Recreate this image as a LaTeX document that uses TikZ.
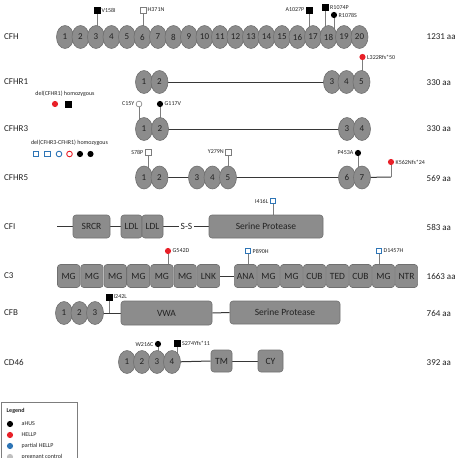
\documentclass[tikz,border=0pt]{standalone}
\usepackage{fontspec}
\setmainfont{Carlito}
\usetikzlibrary{shapes.geometric}
\pgfdeclarelayer{bg}
\pgfsetlayers{bg,main}
\definecolor{egray}{RGB}{140,140,140}
\definecolor{dgray}{RGB}{112,112,112}
\definecolor{stemc}{RGB}{125,125,125}
\definecolor{linec}{RGB}{55,55,55}
\definecolor{redC}{RGB}{232,32,40}
\definecolor{blueC}{RGB}{46,117,182}
\definecolor{lgray}{RGB}{192,192,192}
\definecolor{txt}{RGB}{35,35,35}
\begin{document}
\begin{tikzpicture}[x=1pt,y=-1pt,
  dom/.style={ellipse, draw=dgray, fill=egray, line width=0.6pt, minimum width=17pt, minimum height=23pt, inner sep=0pt, font=\fontsize{9}{9}\selectfont, text=txt},
  box/.style={rectangle, rounded corners=3pt, draw=dgray, fill=egray, line width=0.6pt, minimum height=23pt, inner sep=0pt, font=\fontsize{9.5}{9.5}\selectfont, text=txt},
  sqk/.style={rectangle, draw=black, fill=black, minimum size=6pt, inner sep=0pt},
  sqo/.style={rectangle, draw=stemc, fill=white, line width=0.6pt, minimum size=5.6pt, inner sep=0pt},
  sqb/.style={rectangle, draw=blueC, fill=white, line width=0.9pt, minimum size=5.4pt, inner sep=0pt},
  cik/.style={circle, fill=black, minimum size=6.2pt, inner sep=0pt},
  cir/.style={circle, fill=redC, minimum size=6.2pt, inner sep=0pt},
  cio/.style={circle, draw=stemc, fill=white, line width=0.6pt, minimum size=5.8pt, inner sep=0pt},
  cib/.style={circle, draw=blueC, fill=white, line width=0.9pt, minimum size=5.6pt, inner sep=0pt},
  cirO/.style={circle, draw=redC, fill=white, line width=0.9pt, minimum size=5.6pt, inner sep=0pt},
  cig/.style={circle, fill=lgray, minimum size=6.2pt, inner sep=0pt},
  lab/.style={font=\fontsize{6}{6}\selectfont, inner sep=0pt, text=txt},
  rowlab/.style={font=\fontsize{9}{9}\selectfont, inner sep=0pt, anchor=west, text=txt},
  aalab/.style={font=\fontsize{9}{9}\selectfont, inner sep=0pt, anchor=west, text=txt},
  stem/.style={draw=stemc, line width=0.8pt},
  link/.style={draw=linec, line width=1pt}]
\useasboundingbox (0,0) rectangle (459,458);
\clip (0,0) rectangle (459,458);

% ---------- row labels ----------
\node[rowlab] (nCFH) at (4,37) {CFH};
\node[rowlab] (nCFHR1) at (4,82) {CFHR1};
\node[rowlab] (nCFHR3) at (4,129) {CFHR3};
\node[rowlab] (nCFHR5) at (4,177.5) {CFHR5};
\node[rowlab] (nCFI) at (4,226.5) {CFI};
\node[rowlab] (nC3) at (4,276) {C3};
\node[rowlab] (nCFB) at (4,313) {CFB};
\node[rowlab] (nCD46) at (4,362) {CD46};

\node[aalab] (aCFH) at (426.5,37) {1231 aa};
\node[aalab] (aCFHR1) at (426.5,83) {330 aa};
\node[aalab] (aCFHR3) at (426.5,128.5) {330 aa};
\node[aalab] (aCFHR5) at (426.5,178) {569 aa};
\node[aalab] (aCFI) at (426.5,227) {583 aa};
\node[aalab] (aC3) at (426.5,276) {1663 aa};
\node[aalab] (aCFB) at (426.5,313) {764 aa};
\node[aalab] (aCD46) at (426.5,363) {392 aa};

% ---------- CFH ----------
\foreach \i in {1,...,20} {\node[dom] (h\i) at ({65+15.5*(\i-1)},37) {\i};}
\node[sqk] (mV158I) at (97,10) {};
\node[lab,anchor=west] (tV158I) at (101.5,10) {V158I};
\node[sqo] (mH371N) at (143,10) {};
\node[lab,anchor=west] (tH371N) at (147.5,10) {H371N};
\node[sqk] (mA1027P) at (309,10) {};
\node[lab,anchor=east] (tA1027P) at (304.5,10) {A1027P};
\node[sqk] (mR1074P) at (325.5,7.5) {};
\node[lab,anchor=west] (tR1074P) at (330,7.5) {R1074P};
\node[cik] (mR1078S) at (334,15) {};
\node[lab,anchor=west] (tR1078S) at (338.5,15) {R1078S};
\begin{pgfonlayer}{bg}
\draw[stem] (mV158I) -- (mV158I |- h3.center);
\draw[stem] (mH371N) -- (mH371N |- h6.center);
\draw[stem] (mA1027P) -- (mA1027P |- h17.center);
\draw[stem] (mR1074P) -- (mR1074P |- h18.center);
\draw[stem] (mR1078S) -- (mR1078S |- h18.center);
\end{pgfonlayer}

% ---------- CFHR1 ----------
\node[dom] (ra1) at (144,82) {1};
\node[dom] (ra2) at (159.5,82) {2};
\node[dom] (ra3) at (332,82) {3};
\node[dom] (ra4) at (346.5,82) {4};
\node[dom] (ra5) at (361.5,82) {5};
\node[cir] (mL322) at (362.5,57) {};
\node[lab,anchor=west] (tL322) at (367,57) {L322Rfs*50};
\node[lab] (tdel1) at (65,94) {del(CFHR1) homozygous};
\node[cir] (d1a) at (55,104) {};
\node[sqk] (d1b) at (68,104) {};
\begin{pgfonlayer}{bg}
\draw[link] (ra2.center) -- (ra3.center);
\draw[stem] (mL322) -- (mL322 |- ra5.center);
\end{pgfonlayer}

% ---------- CFHR3 ----------
\node[dom] (rb1) at (144,129) {1};
\node[dom] (rb2) at (160,129) {2};
\node[dom] (rb3) at (347,129) {3};
\node[dom] (rb4) at (362,129) {4};
\node[cio] (mC15Y) at (139,104) {};
\node[lab,anchor=east] (tC15Y) at (134.5,104) {C15Y};
\node[cik] (mG117V) at (160,104) {};
\node[lab,anchor=west] (tG117V) at (164.5,104) {G117V};
\node[lab] (tdel3) at (69.5,143) {del(CFHR3-CFHR1) homozygous};
\node[sqb] (d3a) at (36,154) {};
\node[sqb] (d3b) at (47.5,154) {};
\node[cib] (d3c) at (59,154) {};
\node[cirO] (d3d) at (69.5,154) {};
\node[cik] (d3e) at (80,154) {};
\node[cik] (d3f) at (90.5,154) {};
\begin{pgfonlayer}{bg}
\draw[link] (rb2.center) -- (rb3.center);
\draw[stem] (mC15Y) -- (mC15Y |- rb1.center);
\draw[stem] (mG117V) -- (mG117V |- rb2.center);
\end{pgfonlayer}

% ---------- CFHR5 ----------
\node[dom] (rc1) at (144,177.5) {1};
\node[dom] (rc2) at (159.5,177.5) {2};
\node[dom] (rc3) at (197,177.5) {3};
\node[dom] (rc4) at (212.5,177.5) {4};
\node[dom] (rc5) at (228,177.5) {5};
\node[dom] (rc6) at (347,177.5) {6};
\node[dom] (rc7) at (362,177.5) {7};
\coordinate (kend) at (391,177);
\node[sqo] (mS78P) at (148,152) {};
\node[lab,anchor=east] (tS78P) at (143.5,152) {S78P};
\node[sqo] (mY279N) at (228.5,152) {};
\node[lab,anchor=east] (tY279N) at (224,152) {Y279N};
\node[cik] (mP453A) at (358,153) {};
\node[lab,anchor=east] (tP453A) at (353.5,153) {P453A};
\node[cir] (mK562) at (391,162) {};
\node[lab,anchor=west] (tK562) at (395.5,162) {K562Nfs*24};
\begin{pgfonlayer}{bg}
\draw[link] (rc2.center) -- (rc3.center);
\draw[link] (rc5.center) -- (rc6.center);
\draw[link] (rc7.center) -- (kend);
\draw[stem] (mK562) -- (kend);
\draw[stem] (mS78P) -- (mS78P |- rc1.center);
\draw[stem] (mY279N) -- (mY279N |- rc5.center);
\draw[stem] (mP453A) -- (mP453A |- rc7.center);
\end{pgfonlayer}

% ---------- CFI ----------
\coordinate (cfiL) at (57,226.5);
\node[box, minimum width=37pt] (srcr) at (91.5,226.5) {SRCR};
\node[box, minimum width=21pt] (ldl1) at (131.5,226.5) {LDL};
\node[box, minimum width=21pt] (ldl2) at (152.5,226.5) {LDL};
\node[font=\fontsize{9.5}{9.5}\selectfont, inner sep=1.5pt, text=txt] (ss) at (186.5,226.5) {S-S};
\node[box, minimum width=114pt] (spi) at (266,226.5) {Serine Protease};
\node[sqb] (mI416L) at (273,201) {};
\node[lab,anchor=east] (tI416L) at (268.5,201) {I416L};
\begin{pgfonlayer}{bg}
\draw[link] (cfiL) -- (srcr.west);
\draw[link] (srcr.east) -- (ldl1.west);
\draw[link] (ldl2.east) -- (ss.west);
\draw[link] (ss.east) -- (spi.west);
\draw[stem] (mI416L) -- (mI416L |- spi.center);
\end{pgfonlayer}

% ---------- C3 ----------
\foreach \t [count=\k from 0] in {MG,MG,MG,MG,MG,MG,LNK}
  {\node[box, minimum width=22.4pt] (ca\k) at ({68.65+23.3*\k},276) {\t};}
\foreach \t [count=\k from 0] in {ANA,MG,MG,CUB,TED,CUB,MG,NTR}
  {\node[box, minimum width=22.2pt] (cb\k) at ({245.5+23*\k},276) {\t};}
\node[cir] (mG542D) at (168,251) {};
\node[lab,anchor=west] (tG542D) at (172.5,251) {G542D};
\node[sqb] (mP890H) at (248,251) {};
\node[lab,anchor=west] (tP890H) at (252.5,251) {P890H};
\node[sqb] (mD1457H) at (379,251) {};
\node[lab,anchor=west] (tD1457H) at (383.5,251) {D1457H};
\begin{pgfonlayer}{bg}
\draw[link] (ca6.east) -- (cb0.west);
\draw[stem] (mG542D) -- (mG542D |- ca4.center);
\draw[stem] (mP890H) -- (mP890H |- cb0.center);
\draw[stem] (mD1457H) -- (mD1457H |- cb6.center);
\end{pgfonlayer}

% ---------- CFB ----------
\node[dom] (b1) at (64,313) {1};
\node[dom] (b2) at (79.5,313) {2};
\node[dom] (b3) at (95,313) {3};
\node[box, minimum width=91pt, minimum height=24pt] (vwa) at (166.5,313) {VWA};
\node[box, minimum width=110pt] (spb) at (285,312.5) {Serine Protease};
\node[sqk] (mI242L) at (109,297) {};
\node[lab,anchor=west] (tI242L) at (113.5,297) {I242L};
\begin{pgfonlayer}{bg}
\draw[link] (b3.center) -- (vwa.west);
\draw[link] (vwa.east) -- (spb.west);
\draw[stem] (mI242L) -- (mI242L |- b3.center);
\end{pgfonlayer}

% ---------- CD46 ----------
\node[dom] (d1) at (127,362) {1};
\node[dom] (d2) at (142,362) {2};
\node[dom] (d3) at (157,362) {3};
\node[dom] (d4) at (172,362) {4};
\node[box, minimum width=21pt, minimum height=22pt] (tm) at (221.5,361) {TM};
\node[box, minimum width=25pt, minimum height=22pt] (cy) at (270.5,361) {CY};
\node[cik] (mW216C) at (158,344) {};
\node[lab,anchor=east] (tW216C) at (153.5,344) {W216C};
\node[sqk] (mS274) at (177.5,343) {};
\node[lab,anchor=west] (tS274) at (182,343) {S274Yfs*11};
\begin{pgfonlayer}{bg}
\draw[link] (d4.center) -- (tm.west);
\draw[link] (tm.east) -- (cy.west);
\draw[stem] (mW216C) -- (mW216C |- d3.center);
\draw[stem] (mS274) -- (mS274 |- d4.center);
\end{pgfonlayer}

% ---------- Legend ----------
\node[draw=stemc, line width=0.7pt, fill=white, minimum width=75pt, minimum height=75pt, anchor=north west, inner sep=0pt] (legend) at (1.5,402) {};
\node[lab, anchor=west, font=\fontsize{6}{6}\selectfont\bfseries] (tleg) at (6.5,410.5) {Legend};
\node[cik] (lg1) at (10,424) {};
\node[cir] (lg2) at (10,435) {};
\node[circle, fill=blueC, minimum size=6.2pt, inner sep=0pt] (lg3) at (10,446) {};
\node[cig] (lg4) at (10,457) {};
\node[lab,anchor=west] (tlg1) at (21.5,424) {aHUS};
\node[lab,anchor=west] (tlg2) at (21.5,435) {HELLP};
\node[lab,anchor=west] (tlg3) at (21.5,446) {partial HELLP};
\node[lab,anchor=west] (tlg4) at (21.5,457) {pregnant control};
\end{tikzpicture}
\end{document}
